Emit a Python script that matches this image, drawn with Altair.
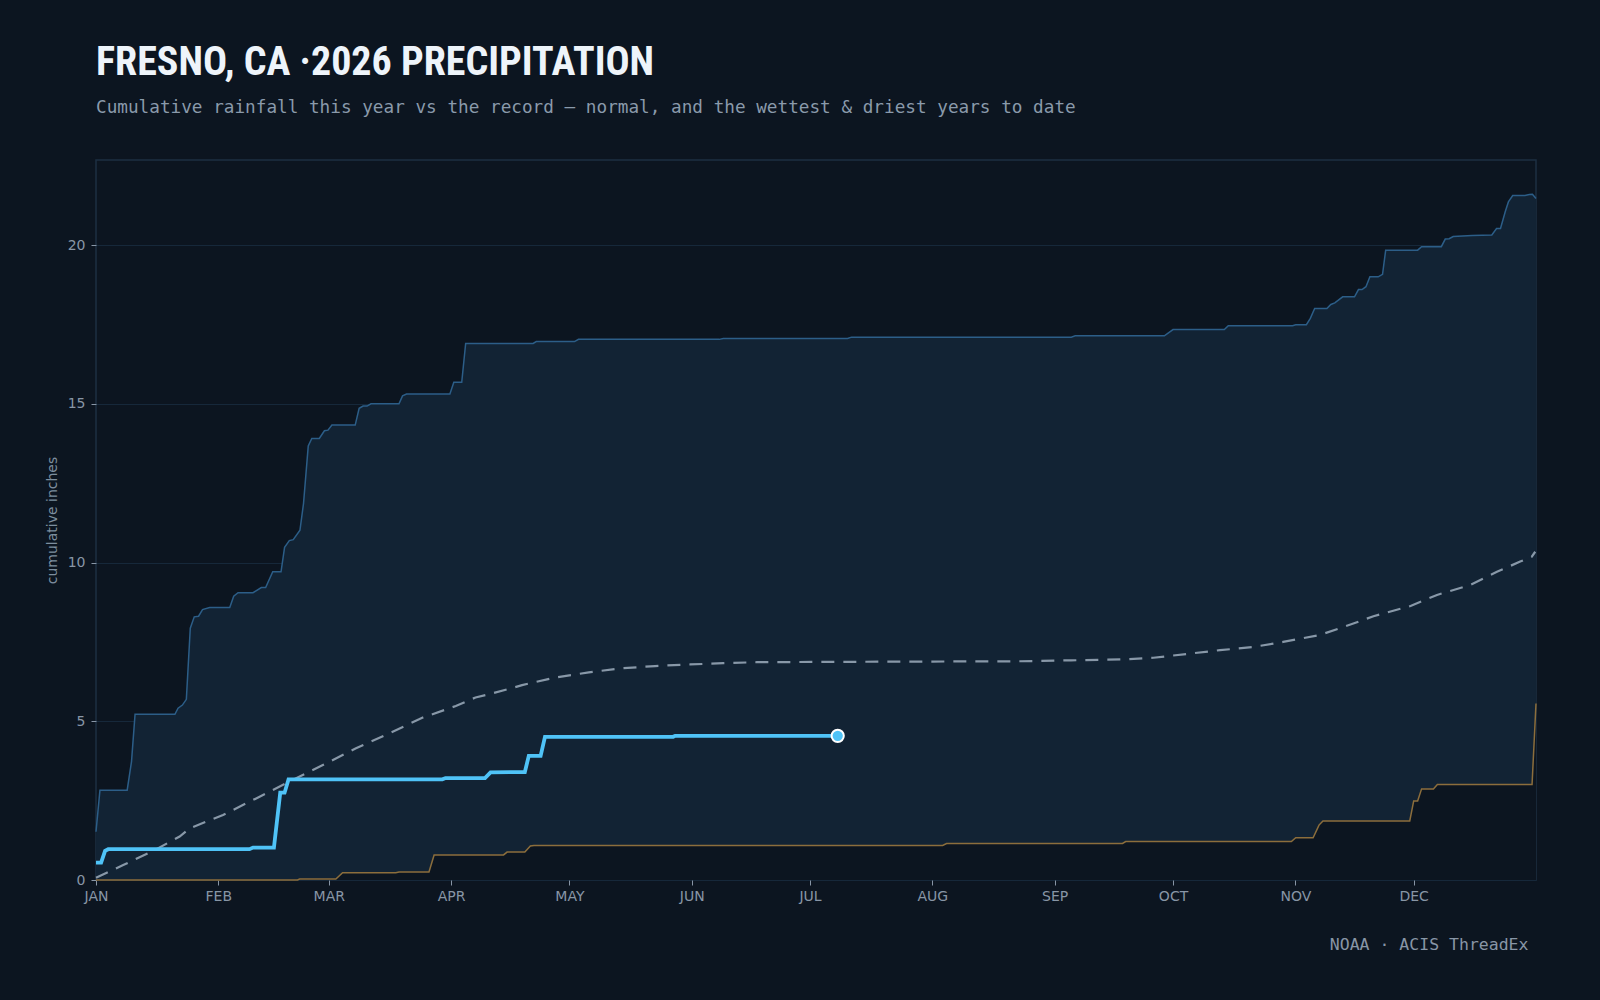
import altair as alt
import pandas as pd

YEAR_START = pd.Timestamp("2026-01-01")

# ---- data (day offset from Jan 1, cumulative inches) ----
wet_day = [0, 1, 7.9, 9, 9.9, 20, 20.8, 21.9, 22.9, 23.9, 24.9, 26, 27, 28.8, 33.9, 34.9, 36,
           39.8, 41.9, 43, 44.8, 46.9, 47.8, 49, 50, 51.7, 52.6, 53.8, 54.7, 56.6, 57.9, 58.8,
           59.8, 65.7, 66.7, 67.7, 68.7, 69.7, 76.8, 77.7, 78.7, 89.7, 90.7, 92.7, 93.7, 110.8,
           111.6, 121.3, 122.3, 158, 159, 190.5, 191.5, 247.2, 248.2, 270.8, 273, 286, 287,
           303.3, 304.1, 306.8, 307.8, 308.9, 312, 313, 314, 316, 319, 320, 320.9, 321.9, 322.9,
           325, 326.1, 326.9, 335, 336, 341, 342, 343, 344, 348.8, 353.8, 355, 356, 357.2, 358,
           359.1, 362.2, 363.3, 364.1, 365]
wet_val = [1.52, 2.83, 2.83, 3.73, 5.22, 5.22, 5.41, 5.51, 5.69, 7.93, 8.29, 8.31, 8.52, 8.58,
           8.58, 8.94, 9.05, 9.05, 9.21, 9.21, 9.71, 9.71, 10.48, 10.69, 10.72, 11.02, 11.86,
           13.67, 13.91, 13.91, 14.15, 14.17, 14.33, 14.33, 14.86, 14.93, 14.93, 15.0, 15.0,
           15.25, 15.31, 15.31, 15.68, 15.68, 16.90, 16.90, 16.96, 16.96, 17.03, 17.03, 17.06,
           17.06, 17.10, 17.10, 17.14, 17.14, 17.34, 17.34, 17.46, 17.46, 17.49, 17.49, 17.69,
           18.0, 18.0, 18.13, 18.18, 18.37, 18.37, 18.60, 18.60, 18.69, 19.0, 19.0, 19.08,
           19.84, 19.84, 19.95, 19.95, 20.19, 20.2, 20.27, 20.30, 20.32, 20.52, 20.52, 21.05,
           21.36, 21.56, 21.56, 21.59, 21.60, 21.47]

normal_day = [0, 6.9, 15.3, 21.2, 23.8, 32.2, 40.6, 49, 57.5, 65.9, 74.3, 82.7, 91.2, 96.2,
              99.6, 104.7, 108, 116.5, 124.9, 133.3, 141.7, 150.6, 159, 167.5, 184.3, 206.4,
              234.2, 247.2, 261.2, 268, 276.5, 284.9, 293.4, 300.9, 310.3, 318.7, 323.8, 333.2,
              339.9, 348.3, 355.1, 361, 363.9, 364.8]
normal_val = [0.07, 0.47, 0.97, 1.37, 1.63, 2.05, 2.57, 3.10, 3.62, 4.15, 4.62, 5.11, 5.48,
              5.75, 5.85, 6.02, 6.14, 6.38, 6.54, 6.67, 6.74, 6.79, 6.83, 6.86, 6.87, 6.88,
              6.89, 6.92, 6.95, 7.00, 7.12, 7.24, 7.34, 7.50, 7.72, 8.08, 8.31, 8.63, 8.98,
              9.29, 9.71, 10.03, 10.18, 10.34]

dry_day = [0, 51.1, 51.6, 60.8, 62.5, 76, 76.8, 84.4, 85.7, 103.3, 104.2, 108.7, 110.1, 111,
           214.6, 215.6, 260.2, 261, 303, 304.1, 308.5, 310, 311, 333, 334, 335, 336, 339, 340,
           364, 365]
dry_val = [0, 0, 0.03, 0.03, 0.23, 0.23, 0.25, 0.25, 0.79, 0.79, 0.88, 0.88, 1.07, 1.09, 1.09,
           1.15, 1.15, 1.21, 1.21, 1.33, 1.33, 1.73, 1.86, 1.86, 2.49, 2.49, 2.87, 2.87, 3.01,
           3.01, 5.56]

cur_day = [0, 1.3, 2.3, 3.1, 38.9, 39.8, 45.1, 46.7, 47.8, 48.8, 87.8, 88.6, 98.6, 100, 108.7,
           109.7, 112.7, 113.8, 146.3, 146.8, 188]
cur_val = [0.55, 0.55, 0.92, 0.97, 0.97, 1.02, 1.02, 2.75, 2.75, 3.17, 3.17, 3.21, 3.21, 3.39,
           3.40, 3.91, 3.91, 4.51, 4.51, 4.54, 4.54]

Y_TICKS = [0, 5, 10, 15, 20]
MONTHS = list(range(1, 13))

# ---- styling ----
BG = "#0c1520"
BAND = "#122334"
WET_C = "#2c5e88"
DRY_C = "#8c6e3c"
NORMAL_C = "#8898a8"
CUR_C = "#4fc3f7"
LABEL_C = "#8896a6"


def frame(days, vals):
    return pd.DataFrame({
        "date": [YEAR_START + pd.Timedelta(days=float(d)) for d in days],
        "value": vals,
    })


wet = frame(wet_day, wet_val)
normal = frame(normal_day, normal_val)
dry = frame(dry_day, dry_val)
cur = frame(cur_day, cur_val)
last = cur.tail(1)

x_scale = alt.Scale(domain=[alt.DateTime(year=2026, month=1, date=1),
                            alt.DateTime(year=2027, month=1, date=1)])
y_scale = alt.Scale(domain=[0, 22.68], nice=False, zero=True)

x_axis = alt.Axis(
    values=[alt.DateTime(year=2026, month=m, date=1) for m in MONTHS],
    labelExpr="upper(timeFormat(datum.value, '%b'))",
    labelFlush=False,
    title="NOAA · ACIS ThreadEx",
    titleX=1432, titleY=64, titleAlign="right", titleBaseline="middle",
    titleFont="DejaVu Sans Mono", titleFontSize=16.5, titleFontWeight="normal",
    titleColor=LABEL_C,
    grid=False, tickSize=5, labelPadding=4, domain=False,
)
y_axis = alt.Axis(
    values=Y_TICKS, title="cumulative inches", titlePadding=8,
    titleFont="DejaVu Sans", titleFontSize=14, titleFontWeight="normal",
    titleColor="#7d8e9e", tickSize=5, labelPadding=6, domain=False,
    grid=True, gridColor="#16283a", gridWidth=1,
)

x_enc = alt.X("date:T", scale=x_scale, axis=x_axis)
y_enc = alt.Y("value:Q", scale=y_scale, axis=y_axis)

band = alt.Chart(wet).mark_area(color=BAND, opacity=1).encode(x=x_enc, y=y_enc)
dry_fill = alt.Chart(dry).mark_area(color=BG, opacity=1).encode(x="date:T", y="value:Q")
wet_line = alt.Chart(wet).mark_line(color=WET_C, strokeWidth=1.5).encode(x="date:T", y="value:Q")
dry_line = alt.Chart(dry).mark_line(color=DRY_C, strokeWidth=1.5).encode(x="date:T", y="value:Q")
normal_line = alt.Chart(normal).mark_line(
    color=NORMAL_C, strokeWidth=2.2, strokeDash=[13, 9]).encode(x="date:T", y="value:Q")
cur_line = alt.Chart(cur).mark_line(color=CUR_C, strokeWidth=3.8).encode(x="date:T", y="value:Q")
cur_dot = alt.Chart(last).mark_point(
    filled=True, fill=CUR_C, stroke="white", strokeWidth=2, size=150, opacity=1
).encode(x="date:T", y="value:Q")

chart = alt.layer(
    band, dry_fill, wet_line, dry_line, normal_line, cur_line, cur_dot
).properties(
    width=1440,
    height=720,
    autosize=alt.AutoSizeParams(type="none"),
    padding={"left": 96, "top": 160, "right": 64, "bottom": 120},
    background=BG,
    title=alt.TitleParams(
        text="FRESNO, CA ·2026 PRECIPITATION",
        subtitle="Cumulative rainfall this year vs the record — normal, and the wettest & driest years to date",
        anchor="start", frame="group", orient="top",
        font="Roboto Condensed, DejaVu Sans Condensed, Roboto, sans-serif",
        fontSize=40, fontWeight="bold", color="#eef4fa",
        subtitleFont="DejaVu Sans Mono", subtitleFontSize=17.7, subtitleColor="#8a9aab",
        subtitlePadding=16, offset=43,
    ),
).configure_view(
    stroke="#1c2f42", strokeWidth=1.5, fill=BG,
).configure_axis(
    labelFont="DejaVu Sans", labelFontSize=14, labelColor=LABEL_C,
    tickColor="#8896a6", tickWidth=1,
)

chart.save("out.html", embed_options={"renderer": "svg", "actions": False})
